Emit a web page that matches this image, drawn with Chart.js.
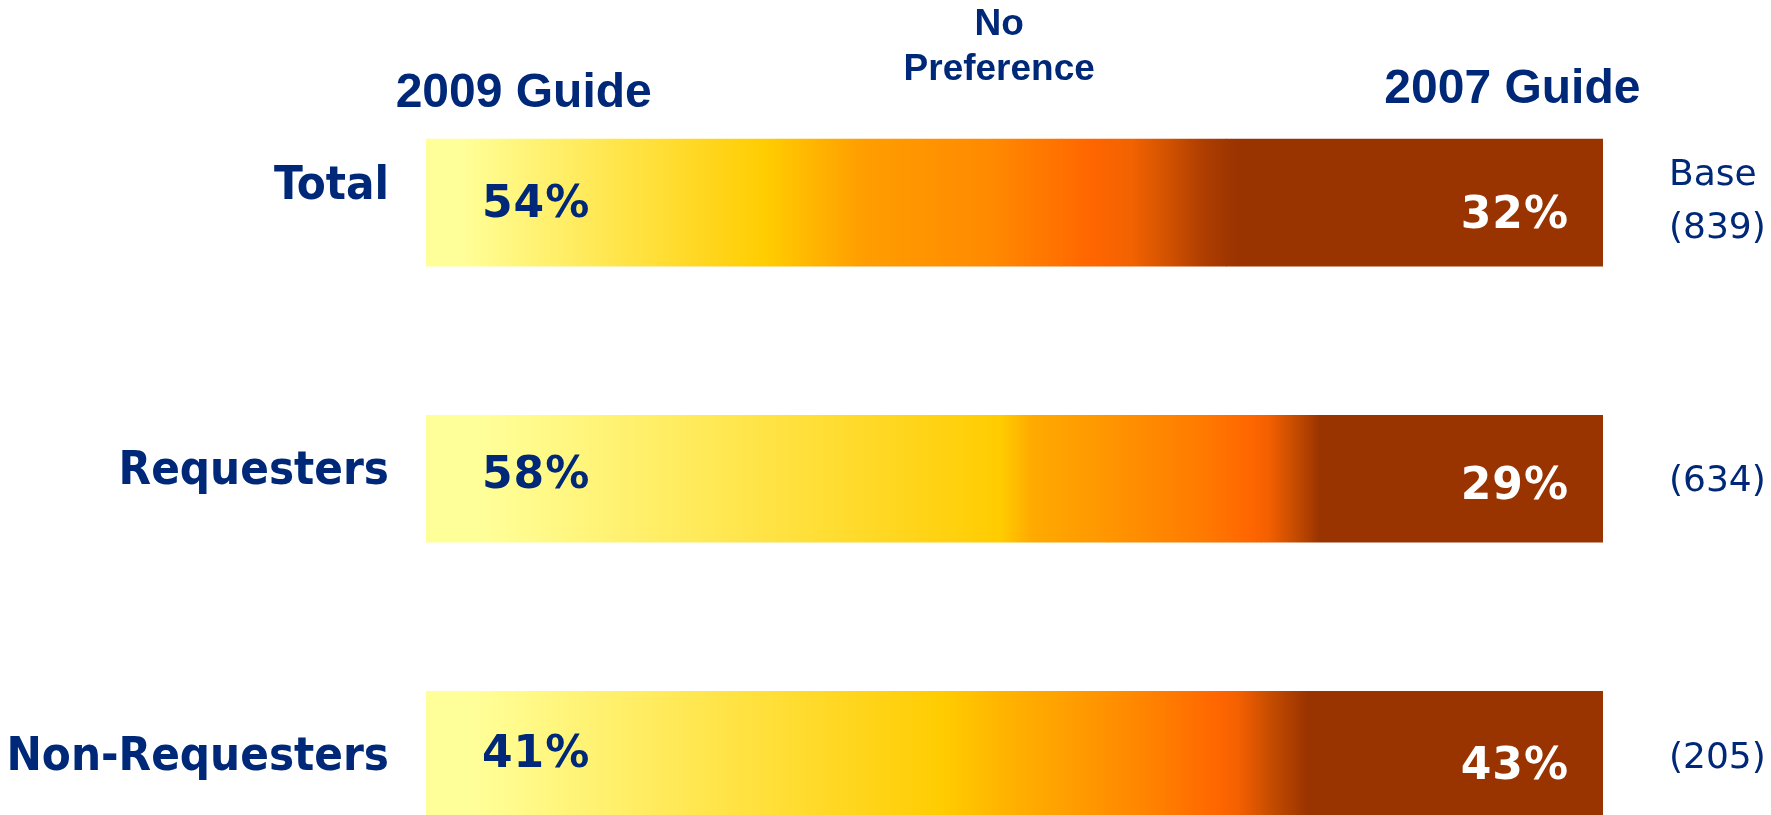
<!DOCTYPE html>
<html>
<head>
<meta charset="utf-8">
<title>2009 Guide vs 2007 Guide</title>
<script src="https://cdn.jsdelivr.net/npm/chart.js@4.4.0/dist/chart.umd.min.js"></script>
<style>
    html, body { margin: 0; padding: 0; background: #ffffff; overflow: hidden; }
    #cadre { width: 1771px; height: 815px; overflow: hidden; }
</style>
</head>
<body>
<div id="cadre"><canvas id="chartCanvas" width="1771" height="893"></canvas></div>
<script>
// Données du graphique
const categories = ['Total', 'Requesters', 'Non-Requesters'];
const guide2009 = [54, 58, 41];
const sansPreference = [14, 13, 16];
const guide2007 = [32, 29, 43];
const bases = [839, 634, 205];
const nomsSeries = ['2009 Guide', 'No Preference', '2007 Guide'];

const bleu = '#002878';

// Dégradé de chaque barre (position 0..1, couleur)
const degrades = [
    [[0, '#FFFF99'], [0.03, '#FFFF99'], [0.29, '#FFCC00'], [0.37, '#FF9E00'], [0.48, '#FF8A00'],
     [0.565, '#FF6600'], [0.60, '#F26200'], [0.63, '#D25200'], [0.66, '#AF3E00'], [0.69, '#993300'], [1, '#993300']],
    [[0, '#FFFF99'], [0.05, '#FFFF99'], [0.488, '#FFCC00'], [0.515, '#FFAA00'], [0.57, '#FF9900'],
     [0.66, '#FF7A00'], [0.70, '#FF6600'], [0.715, '#F56000'], [0.74, '#C24A00'], [0.76, '#993300'], [1, '#993300']],
    [[0, '#FFFF99'], [0.04, '#FFFF99'], [0.44, '#FFCC00'], [0.49, '#FFB400'], [0.56, '#FF9900'],
     [0.62, '#FF8000'], [0.672, '#FF6600'], [0.69, '#F56000'], [0.72, '#C24A00'], [0.75, '#993300'], [1, '#993300']]
];

// Décalages verticaux des textes par rapport au centre de chaque barre
const decalCategorie = [-3.5, 5.5, 15.5];
const decalGauche = [14.5, 9.5, 12.5];
const decalDroite = [25.5, 20.5, 24.5];
const decalBase = [-17.5, 12.5, 13.5];

function degradeBarre(context) {
    const chart = context.chart;
    if (!chart.chartArea) {
        return null;
    }
    const x = chart.scales.x;
    const g = chart.ctx.createLinearGradient(x.getPixelForValue(0), 0, x.getPixelForValue(100), 0);
    degrades[context.dataIndex].forEach(stop => g.addColorStop(stop[0], stop[1]));
    return g;
}

// Tous les textes : en-têtes, catégories, pourcentages et bases
const textes = {
    id: 'textes',
    afterDraw(chart) {
        const ctx = chart.ctx;
        const x = chart.scales.x;
        const y = chart.scales.y;
        ctx.save();
        ctx.textBaseline = 'alphabetic';

        // En-têtes des colonnes
        ctx.fillStyle = bleu;
        ctx.textAlign = 'center';
        ctx.font = 'bold 48px "Liberation Sans", Arial, sans-serif';
        ctx.fillText(nomsSeries[0], x.getPixelForValue(8.3), 107);
        ctx.fillText(nomsSeries[2], x.getPixelForValue(92.3), 103);
        ctx.font = 'bold 37px "Liberation Sans", Arial, sans-serif';
        const mots = nomsSeries[1].split(' ');
        ctx.fillText(mots[0], x.getPixelForValue(48.7), 35);
        ctx.fillText(mots[1], x.getPixelForValue(48.7), 80);

        categories.forEach((cat, i) => {
            const yc = y.getPixelForValue(i);

            // Nom de la catégorie
            ctx.fillStyle = bleu;
            ctx.textAlign = 'right';
            ctx.letterSpacing = '0px';
            ctx.font = 'bold 47px "DejaVu Sans Condensed", "DejaVu Sans", sans-serif';
            ctx.fillText(cat, x.left - 37, yc + decalCategorie[i]);

            // Pourcentages dans la barre
            ctx.font = 'bold 44px "DejaVu Sans", Verdana, sans-serif';
            ctx.letterSpacing = '1px';
            ctx.textAlign = 'left';
            ctx.fillText(guide2009[i] + '%', x.left + 56, yc + decalGauche[i]);
            ctx.fillStyle = '#ffffff';
            ctx.textAlign = 'right';
            ctx.fillText(guide2007[i] + '%', x.right - 34, yc + decalDroite[i]);

            // Base à droite
            ctx.fillStyle = bleu;
            ctx.textAlign = 'left';
            ctx.letterSpacing = '0px';
            ctx.font = '36px "DejaVu Sans", Verdana, sans-serif';
            const lignes = i === 0 ? ['Base', '(' + bases[i] + ')'] : ['(' + bases[i] + ')'];
            lignes.forEach((l, k) => {
                ctx.fillText(l, x.right + 66, yc + decalBase[i] + k * 53);
            });
        });
        ctx.restore();
    }
};

const ctx = document.getElementById('chartCanvas').getContext('2d');
const series = [guide2009, sansPreference, guide2007];

window.myChart = new Chart(ctx, {
    type: 'bar',
    data: {
        labels: categories,
        datasets: series.map((valeurs, s) => ({
            label: nomsSeries[s],
            data: valeurs,
            backgroundColor: degradeBarre,
            borderWidth: 0,
            barThickness: 127
        }))
    },
    options: {
        indexAxis: 'y',
        responsive: false,
        animation: false,
        layout: { padding: { left: 426, right: 168, top: 64.5, bottom: 0 } },
        scales: {
            x: { stacked: true, min: 0, max: 100, display: false },
            y: { stacked: true, display: false }
        },
        plugins: {
            legend: { display: false },
            tooltip: { enabled: false }
        }
    },
    plugins: [textes]
});
</script>
</body>
</html>
